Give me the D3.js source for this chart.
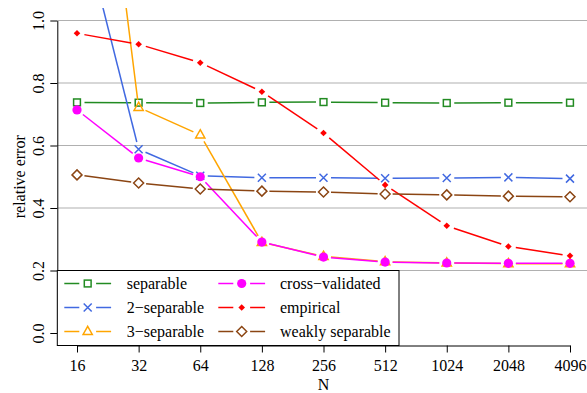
<!DOCTYPE html>
<html>
<head>
<meta charset="utf-8">
<script src="https://cdn.jsdelivr.net/npm/d3@7"></script>
<style>
  body { margin: 0; background: #fff; }
</style>
</head>
<body>
<svg width="587" height="393"></svg>
<script>
// sample sizes on the x axis
var Ns = [16, 32, 64, 128, 256, 512, 1024, 2048, 4096];
var yTicks = [0, 0.2, 0.4, 0.6, 0.8, 1.0];

// relative error for each estimator
var separable  = [0.738, 0.737, 0.736, 0.738, 0.739, 0.737, 0.736, 0.737, 0.737];
var twoSep     = [1.37, 0.588, 0.503, 0.497, 0.497, 0.495, 0.496, 0.498, 0.494];
var threeSep   = [2.30, 0.722, 0.634, 0.290, 0.245, 0.228, 0.224, 0.222, 0.222];
var crossVal   = [0.714, 0.560, 0.500, 0.291, 0.243, 0.227, 0.224, 0.223, 0.223];
var empirical  = [0.959, 0.924, 0.865, 0.772, 0.640, 0.474, 0.343, 0.277, 0.247];
var weakly     = [0.506, 0.480, 0.461, 0.454, 0.451, 0.445, 0.442, 0.438, 0.436];

var labels = ["separable", "2\u2212separable", "3\u2212separable",
              "cross\u2212validated", "empirical", "weakly separable"];

var series = [
  {name: labels[0], values: separable, color: "#228B22", shape: "square"},
  {name: labels[1], values: twoSep,    color: "#4169E1", shape: "cross"},
  {name: labels[2], values: threeSep,  color: "#FFA500", shape: "triangle"},
  {name: labels[3], values: crossVal,  color: "#FF00FF", shape: "circle"},
  {name: labels[4], values: empirical, color: "#FF0000", shape: "smalldiamond"},
  {name: labels[5], values: weakly,    color: "#8B4513", shape: "diamond"}
];

var FONT = "'Liberation Serif', 'Times New Roman', Times, 'DejaVu Serif', serif";

var svg = d3.select("svg");

var x = d3.scaleLog().base(2).domain([16, 4096]).range([77, 570]);
var y = d3.scaleLinear().domain([0, 1]).range([333, 20.5]);

// plot region (R style 4% extension)
var plotL = 57.3, plotR = 589.7, plotT = 8, plotB = 345.5;

svg.append("defs").append("clipPath").attr("id", "plotclip")
  .append("rect")
    .attr("x", plotL).attr("y", plotT)
    .attr("width", plotR - plotL).attr("height", plotB - plotT);

// grid lines
svg.append("g").selectAll("line")
  .data(yTicks.filter(function(d) { return d > 0; }))
  .enter().append("line")
    .attr("x1", plotL).attr("x2", plotR)
    .attr("y1", function(d) { return y(d); })
    .attr("y2", function(d) { return y(d); })
    .attr("stroke", "#b0b0b0")
    .attr("stroke-width", 1.2);

// draw a marker of the given shape
function marker(g, shape, color) {
  var sw = 1.5;
  if (shape == "square") {
    g.append("rect").attr("x", -3.4).attr("y", -3.4).attr("width", 6.8).attr("height", 6.8)
      .attr("fill", "none").attr("stroke", color).attr("stroke-width", sw);
  } else if (shape == "cross") {
    g.append("path").attr("d", "M-4,-4L4,4M-4,4L4,-4")
      .attr("stroke", color).attr("stroke-width", sw);
  } else if (shape == "triangle") {
    g.append("path").attr("d", "M0,-5.2L4.6,3L-4.6,3Z")
      .attr("fill", "none").attr("stroke", color).attr("stroke-width", sw);
  } else if (shape == "circle") {
    g.append("circle").attr("r", 4.6).attr("fill", color);
  } else if (shape == "smalldiamond") {
    g.append("path").attr("d", "M0,-3.3L3.3,0L0,3.3L-3.3,0Z").attr("fill", color);
  } else if (shape == "diamond") {
    g.append("path").attr("d", "M0,-5L5,0L0,5L-5,0Z")
      .attr("fill", "none").attr("stroke", color).attr("stroke-width", sw);
  }
}

var gap = 7.5;
var gData = svg.append("g").attr("clip-path", "url(#plotclip)");

series.forEach(function(s) {
  var pts = Ns.map(function(n, i) { return [x(n), y(s.values[i])]; });
  var g = gData.append("g");
  // type = "b": segments with gaps around points
  for (var i = 0; i < pts.length - 1; i++) {
    var a = pts[i], b = pts[i + 1];
    var dx = b[0] - a[0], dy = b[1] - a[1];
    var len = Math.sqrt(dx * dx + dy * dy);
    if (len <= 2 * gap) continue;
    var ux = dx / len, uy = dy / len;
    g.append("line")
      .attr("x1", a[0] + ux * gap).attr("y1", a[1] + uy * gap)
      .attr("x2", b[0] - ux * gap).attr("y2", b[1] - uy * gap)
      .attr("stroke", s.color).attr("stroke-width", 1.5);
  }
  pts.forEach(function(p) {
    marker(g.append("g").attr("transform", "translate(" + p[0] + "," + p[1] + ")"), s.shape, s.color);
  });
});

// axes
var xAxis = svg.append("g")
  .attr("transform", "translate(0," + plotB + ")")
  .call(d3.axisBottom(x).tickValues(Ns).tickFormat(d3.format("d"))
        .tickSize(7).tickSizeOuter(0).tickPadding(7.6));

var yAxis = svg.append("g")
  .attr("transform", "translate(" + plotL + ",0)")
  .call(d3.axisLeft(y).tickValues(yTicks).tickFormat(d3.format(".1f"))
        .tickSize(7).tickSizeOuter(0));
yAxis.selectAll("text")
  .attr("x", null).attr("dy", null)
  .attr("text-anchor", "middle")
  .attr("transform", "translate(-13.8,0) rotate(-90)");

svg.selectAll(".domain, .tick line").attr("stroke", "#000").attr("stroke-width", 1);

svg.append("text")
  .attr("x", (plotL + plotR) / 2).attr("y", 390)
  .attr("text-anchor", "middle")
  .text("N");

svg.append("text")
  .attr("transform", "translate(25," + ((plotT + plotB) / 2) + ") rotate(-90)")
  .attr("text-anchor", "middle")
  .text("relative error");

// legend
var leg = svg.append("g");
leg.append("rect")
  .attr("x", plotL).attr("y", 270.5)
  .attr("width", 399 - plotL).attr("height", plotB - 270.5)
  .attr("fill", "#fff").attr("stroke", "#000").attr("stroke-width", 1);

var rowY = [283.5, 307.5, 331.5];
var colX = [87.7, 241.7];
var textX = [126.7, 280];

series.forEach(function(s, i) {
  var col = Math.floor(i / 3), row = i % 3;
  var cx = colX[col], cy = rowY[row];
  var g = leg.append("g");
  g.append("line").attr("x1", cx - 23.4).attr("x2", cx - 8.4).attr("y1", cy).attr("y2", cy)
    .attr("stroke", s.color).attr("stroke-width", 1.5);
  g.append("line").attr("x1", cx + 8.4).attr("x2", cx + 23.4).attr("y1", cy).attr("y2", cy)
    .attr("stroke", s.color).attr("stroke-width", 1.5);
  marker(g.append("g").attr("transform", "translate(" + cx + "," + cy + ")"), s.shape, s.color);
  g.append("text")
    .attr("x", textX[col]).attr("y", cy).attr("dy", "0.32em")
    .text(s.name);
});

// serif text everywhere
svg.selectAll("text")
  .style("font-family", FONT)
  .style("font-size", "16px")
  .style("fill", "#000");
svg.selectAll("g").attr("font-family", null);
</script>
</body>
</html>
